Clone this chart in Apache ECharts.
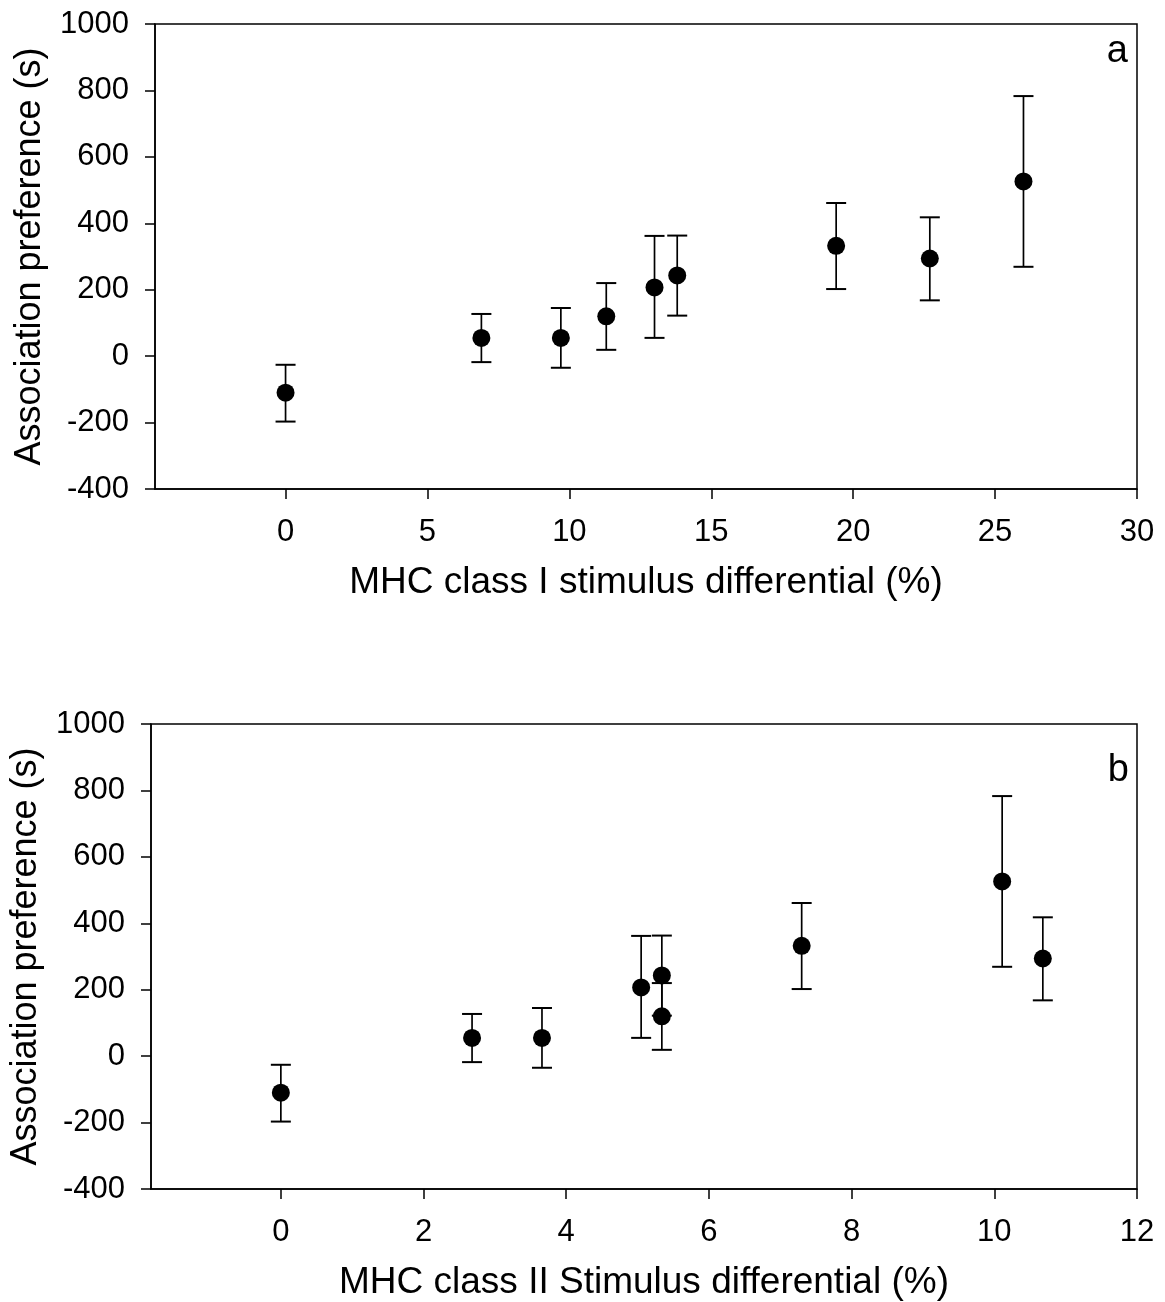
<!DOCTYPE html>
<html>
<head>
<meta charset="utf-8">
<script src="https://cdn.jsdelivr.net/npm/echarts@6/dist/echarts.min.js"></script>
<style>
html,body{margin:0;padding:0;background:#fff;}
#chart{width:1165px;height:1302px;}
</style>
</head>
<body>
<div id="chart"></div>
<script>
// ---- data ----
const classIDiff  = [0, 6.9, 9.7, 11.3, 13.0, 13.8, 19.4, 22.7, 26.0];
const classIIDiff = [0, 2.68, 3.66, 5.34, 5.05, 5.34, 7.3, 10.68, 10.11];
const preference  = [-110, 55, 55, 120, 207, 243, 332, 294, 526];
const errUpper    = [-26, 127, 145, 220, 362, 363, 461, 418, 783];
const errLower    = [-197, -18, -35, 19, 55, 122, 202, 168, 269];

const xTicksI  = [0, 5, 10, 15, 20, 25, 30];
const xTicksII = [0, 2, 4, 6, 8, 10, 12];
const yTicks   = [-400, -200, 0, 200, 400, 600, 800, 1000];

const xTitleI  = 'MHC class I stimulus differential (%)';
const xTitleII = 'MHC class II Stimulus differential (%)';
const yTitle   = 'Association preference (s)';
const panelLetters = ['a', 'b'];

// ---- chart ----
const FONT = '"Liberation Sans", Arial, sans-serif';
const chart = echarts.init(document.getElementById('chart'), null, {renderer: 'canvas'});

function xAxisCfg(gridIndex, min, max, ticks, title) {
  return {
    type: 'value', gridIndex, min, max,
    name: title, nameLocation: 'middle', nameGap: 75,
    nameTextStyle: {fontFamily: FONT, fontSize: 37, color: '#000'},
    axisLine: {show: true, onZero: false, lineStyle: {color: '#000', width: 1.5}},
    axisTick: {show: true, inside: false, length: 10, customValues: ticks, lineStyle: {color: '#000', width: 1.5}},
    axisLabel: {show: true, customValues: ticks, margin: 28, fontFamily: FONT, fontSize: 31, color: '#000',
                formatter: v => String(v)},
    splitLine: {show: false}
  };
}
function yAxisCfg(gridIndex) {
  return {
    type: 'value', gridIndex, min: yTicks[0], max: yTicks[yTicks.length - 1], interval: 200,
    name: yTitle, nameLocation: 'middle', nameGap: 107, nameRotate: 90,
    nameTextStyle: {fontFamily: FONT, fontSize: 36, color: '#000'},
    axisLine: {show: true, onZero: false, lineStyle: {color: '#000', width: 1.5}},
    axisTick: {show: true, inside: false, length: 10, lineStyle: {color: '#000', width: 1.5}},
    axisLabel: {show: true, margin: 26, fontFamily: FONT, fontSize: 31, color: '#000',
                formatter: v => String(v)},
    splitLine: {show: false}
  };
}

function errorSeries(xIndex, yIndex, xs) {
  const data = xs.map((x, i) => [x, errLower[i], errUpper[i]]);
  return {
    type: 'custom', xAxisIndex: xIndex, yAxisIndex: yIndex, data, z: 3,
    renderItem: function (params, api) {
      const lo = api.coord([api.value(0), api.value(1)]);
      const hi = api.coord([api.value(0), api.value(2)]);
      const hw = 10;
      const style = {stroke: '#000', lineWidth: 1.7};
      return {
        type: 'group',
        children: [
          {type: 'line', shape: {x1: lo[0], y1: lo[1], x2: hi[0], y2: hi[1]}, style},
          {type: 'line', shape: {x1: hi[0] - hw, y1: hi[1], x2: hi[0] + hw, y2: hi[1]}, style: {stroke: '#000', lineWidth: 2}},
          {type: 'line', shape: {x1: lo[0] - hw, y1: lo[1], x2: lo[0] + hw, y2: lo[1]}, style: {stroke: '#000', lineWidth: 2}}
        ]
      };
    }
  };
}
function pointSeries(xIndex, yIndex, xs) {
  return {
    type: 'scatter', xAxisIndex: xIndex, yAxisIndex: yIndex, z: 4,
    data: xs.map((x, i) => [x, preference[i]]),
    symbol: 'circle', symbolSize: 18,
    itemStyle: {color: '#000', opacity: 1},
    emphasis: {disabled: true}
  };
}

const option = {
  animation: false,
  backgroundColor: '#fff',
  grid: [
    {left: 155, right: 28, top: 24, bottom: 813, show: true, borderColor: '#000', borderWidth: 1.5, backgroundColor: 'transparent'},
    {left: 151, right: 28, top: 724, bottom: 112, show: true, borderColor: '#000', borderWidth: 1.5, backgroundColor: 'transparent'}
  ],
  xAxis: [
    xAxisCfg(0, -4.6, 30, xTicksI, xTitleI),
    xAxisCfg(1, -1.82, 12, xTicksII, xTitleII)
  ],
  yAxis: [yAxisCfg(0), yAxisCfg(1)],
  graphic: [
    {type: 'text', x: 1128, y: 52, style: {text: panelLetters[0], fontFamily: FONT, fontSize: 38, fill: '#000', textAlign: 'right', textVerticalAlign: 'middle'}},
    {type: 'text', x: 1129, y: 771, style: {text: panelLetters[1], fontFamily: FONT, fontSize: 38, fill: '#000', textAlign: 'right', textVerticalAlign: 'middle'}}
  ],
  series: [
    errorSeries(0, 0, classIDiff),
    pointSeries(0, 0, classIDiff),
    errorSeries(1, 1, classIIDiff),
    pointSeries(1, 1, classIIDiff)
  ]
};
chart.setOption(option);
</script>
</body>
</html>
